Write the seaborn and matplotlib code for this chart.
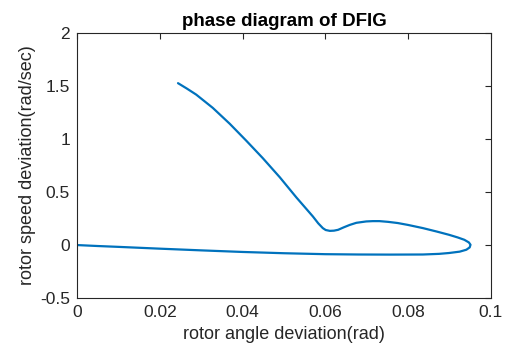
import matplotlib
matplotlib.use("Agg")
import matplotlib.pyplot as plt
import seaborn as sns
import pandas as pd

# Trajectory of the DFIG in the (rotor angle, rotor speed) plane
rotor_angle = [0.0, 0.005, 0.01, 0.02, 0.03, 0.04, 0.05, 0.06, 0.068,
               0.0755, 0.0836, 0.0875, 0.0899, 0.0925, 0.0941, 0.0949,
               0.0951, 0.0947, 0.0936, 0.092, 0.0899, 0.087, 0.0836, 0.08,
               0.0775, 0.0752, 0.0731, 0.0715, 0.0699, 0.0675, 0.0659,
               0.0645, 0.0631, 0.0621, 0.0611, 0.0601, 0.0594, 0.0583,
               0.057, 0.055, 0.053, 0.049, 0.0449, 0.0409, 0.0369, 0.0328,
               0.0288, 0.0265, 0.0244]
rotor_speed = [0.0, -0.009, -0.017, -0.034, -0.05, -0.065, -0.077, -0.086,
               -0.089, -0.09, -0.089, -0.083, -0.075, -0.062, -0.044, -0.022,
               0.003, 0.025, 0.05, 0.072, 0.097, 0.127, 0.16, 0.19, 0.208,
               0.219, 0.226, 0.226, 0.223, 0.21, 0.19, 0.168, 0.144, 0.136,
               0.134, 0.142, 0.16, 0.205, 0.27, 0.36, 0.45, 0.64, 0.82, 0.985,
               1.145, 1.295, 1.42, 1.478, 1.528]

x_ticks = [0, 0.02, 0.04, 0.06, 0.08, 0.1]
x_tick_labels = ["0", "0.02", "0.04", "0.06", "0.08", "0.1"]
y_ticks = [-0.5, 0, 0.5, 1, 1.5, 2]
y_tick_labels = ["-0.5", "0", "0.5", "1", "1.5", "2"]

df = pd.DataFrame({"angle": rotor_angle, "speed": rotor_speed})

sns.set_theme(style="white")
plt.rcParams["font.family"] = ["Liberation Sans", "DejaVu Sans"]
ink = "#262626"

fig = plt.figure(figsize=(5.07, 3.49), dpi=100)
ax = fig.add_axes([0.152, 0.146, 0.816, 0.759])

sns.lineplot(data=df, x="angle", y="speed", sort=False, estimator=None,
             color="#0072BD", linewidth=1.6, ax=ax)
for ln in ax.get_lines():
    ln.set_solid_joinstyle("round")
    ln.set_solid_capstyle("round")

ax.set_xlim(0, 0.1)
ax.set_ylim(-0.5, 2)
ax.set_xticks(x_ticks)
ax.set_xticklabels(x_tick_labels)
ax.set_yticks(y_ticks)
ax.set_yticklabels(y_tick_labels)

ax.tick_params(direction="in", length=4, width=0.8, color=ink,
               top=True, right=True, labelsize=12.5, labelcolor=ink, pad=5)
for s in ax.spines.values():
    s.set_color(ink)
    s.set_linewidth(0.8)
    s.set_visible(True)

ax.set_xlabel("rotor angle deviation(rad)", fontsize=13, color=ink, labelpad=4)
ax.set_ylabel("rotor speed deviation(rad/sec)", fontsize=13, color=ink, labelpad=3)
ax.set_title("phase diagram of DFIG", fontsize=13.5, fontweight="bold",
             color="black", pad=5)

fig.savefig("out.png", dpi=100)
